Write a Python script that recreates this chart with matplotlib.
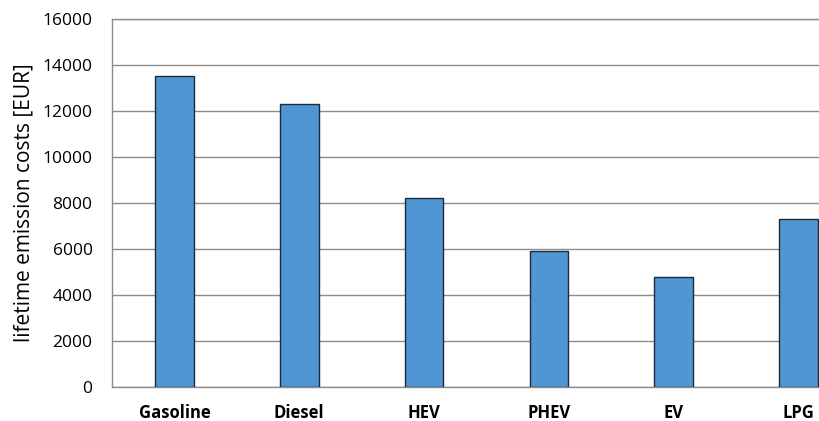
import matplotlib.pyplot as plt

# data
categories = ['Gasoline', 'Diesel', 'HEV', 'PHEV', 'EV', 'LPG']
costs = [13500, 12300, 8200, 5900, 4800, 7300]
y_ticks = [0, 2000, 4000, 6000, 8000, 10000, 12000, 14000, 16000]

plt.rcParams['font.family'] = ['Open Sans', 'DejaVu Sans']

fig = plt.figure(figsize=(8.19, 4.21), dpi=100)
# plot area runs off the right edge of the image, like the original
ax = fig.add_axes([112 / 819, 1 - 387 / 421, 749 / 819, 368 / 421])

x = range(len(categories))
ax.bar(x, costs, width=0.31, color='#4f96d2', edgecolor='#1c2b3c', linewidth=1, zorder=3)

ax.set_xlim(-0.5, len(categories) - 0.5)
ax.set_ylim(0, 16000)
ax.set_yticks(y_ticks)
ax.set_yticklabels([str(t) for t in y_ticks], fontsize=12.5)
ax.set_xticks(list(x))
ax.set_xticklabels(categories, fontsize=12, fontweight='bold')
ax.tick_params(axis='y', length=0, pad=14)
ax.tick_params(axis='x', length=0, pad=12)

ax.yaxis.grid(True, color='#8c8c8c', linewidth=1)
ax.set_axisbelow(True)
for s in ax.spines.values():
    s.set_color('#8c8c8c')
    s.set_linewidth(1)

ax.set_ylabel('lifetime emission costs [EUR]', fontsize=15, labelpad=6)

fig.savefig('out.png', dpi=100)
